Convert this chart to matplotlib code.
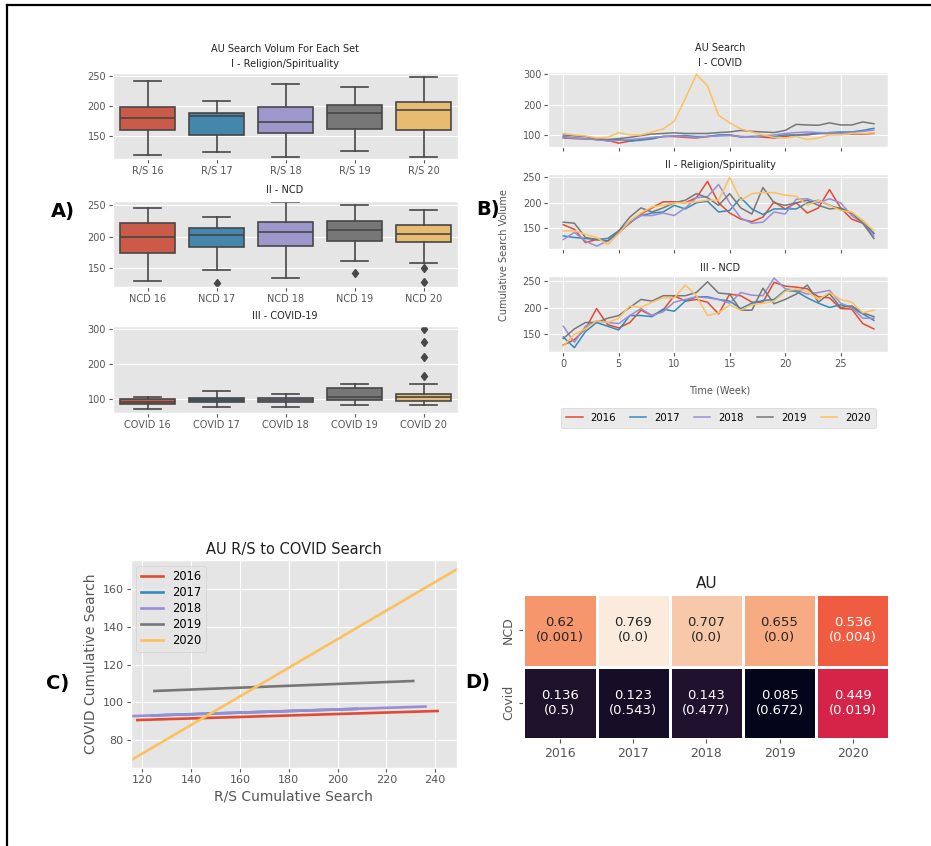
import matplotlib
matplotlib.use("Agg")
import matplotlib.pyplot as plt
from matplotlib.lines import Line2D
import numpy as np
import seaborn as sns

plt.style.use("ggplot")
plt.rcParams['font.family'] = ['DejaVu Sans']

W, H = 931, 846
fig = plt.figure(figsize=(W / 100, H / 100), dpi=100)


def fx(px):
    return px / W


def fy(py):
    return 1 - py / H


def rect(x0, y0, x1, y1):
    return [fx(x0), fy(y1), (x1 - x0) / W, (y1 - y0) / H]


# ---------------- data ----------------
years = ["2016", "2017", "2018", "2019", "2020"]
colors = ['#E24A33', '#348ABD', '#988ED5', '#777777', '#FBC15E']

# Panel A: box statistics
rs_labels = ["R/S 16", "R/S 17", "R/S 18", "R/S 19", "R/S 20"]
rs_whislo = [118, 124, 115, 125, 116]
rs_q1 = [160, 152, 156, 162, 160]
rs_med = [180, 183, 174, 189, 193]
rs_q3 = [199, 188, 199, 201, 206]
rs_whishi = [241, 208, 236, 231, 249]
rs_fliers = [[], [], [], [], []]

ncd_labels = ["NCD 16", "NCD 17", "NCD 18", "NCD 19", "NCD 20"]
ncd_whislo = [130, 148, 135, 161, 159]
ncd_q1 = [175, 183, 185, 194, 192]
ncd_med = [200, 202, 208, 210, 205]
ncd_q3 = [221, 214, 223, 225, 218]
ncd_whishi = [246, 232, 255, 250, 242]
ncd_fliers = [[], [127], [], [142], [150, 128]]

cov_labels = ["COVID 16", "COVID 17", "COVID 18", "COVID 19", "COVID 20"]
cov_whislo = [72, 79, 79, 83, 85]
cov_q1 = [88, 91, 91, 99, 95]
cov_med = [93, 98, 97, 106, 106]
cov_q3 = [102, 104, 104, 132, 116]
cov_whishi = [106, 125, 116, 143, 145]
cov_fliers = [[], [], [], [], [300, 264, 220, 166]]

# Panel B: weekly series (weeks 0..28)
weeks = list(range(29))
covid_2016 = [90, 88, 87, 85, 82, 73, 80, 85, 90, 95, 95, 92, 90, 95, 98, 100, 95, 95, 93, 90, 95, 100, 100, 105, 105, 106, 103, 103, 105]
covid_2017 = [95, 90, 88, 85, 82, 85, 80, 83, 87, 95, 97, 98, 95, 95, 100, 100, 93, 95, 97, 95, 100, 100, 103, 105, 108, 110, 110, 115, 122]
covid_2018 = [92, 90, 88, 85, 80, 82, 85, 88, 92, 95, 97, 95, 92, 95, 97, 98, 95, 93, 97, 100, 105, 108, 110, 108, 107, 105, 108, 112, 116]
covid_2019 = [100, 97, 95, 88, 85, 88, 92, 98, 103, 105, 107, 105, 105, 105, 108, 110, 115, 112, 110, 108, 115, 135, 133, 132, 140, 133, 133, 143, 137]
covid_2020 = [105, 100, 97, 90, 92, 108, 100, 100, 110, 120, 145, 220, 300, 262, 165, 140, 120, 110, 100, 92, 90, 95, 85, 90, 100, 100, 105, 105, 107]

rs_2016 = [157, 148, 122, 128, 125, 142, 160, 178, 190, 202, 202, 200, 210, 242, 200, 180, 168, 163, 172, 202, 188, 200, 180, 190, 226, 190, 168, 160, 140]
rs_2017 = [135, 132, 130, 128, 130, 145, 162, 175, 180, 182, 195, 188, 200, 203, 182, 185, 210, 188, 177, 188, 188, 188, 200, 205, 195, 188, 180, 165, 140]
rs_2018 = [128, 142, 125, 115, 125, 140, 162, 175, 175, 180, 175, 190, 210, 212, 236, 200, 170, 160, 162, 182, 178, 207, 208, 200, 208, 200, 175, 160, 135]
rs_2019 = [162, 160, 132, 128, 125, 145, 172, 190, 182, 190, 200, 205, 218, 210, 195, 218, 190, 178, 230, 200, 195, 200, 205, 195, 188, 190, 180, 160, 130]
rs_2020 = [145, 145, 138, 132, 118, 140, 165, 180, 192, 195, 200, 200, 202, 205, 205, 250, 205, 218, 220, 220, 215, 213, 195, 205, 195, 185, 182, 165, 145]

ncd_2016 = [130, 140, 160, 198, 168, 162, 172, 195, 185, 195, 222, 212, 215, 210, 188, 225, 222, 210, 210, 247, 240, 238, 235, 220, 218, 198, 197, 170, 160]
ncd_2017 = [145, 125, 155, 172, 165, 158, 185, 185, 183, 197, 193, 212, 220, 220, 215, 212, 198, 208, 213, 215, 232, 230, 218, 208, 200, 205, 200, 188, 176]
ncd_2018 = [165, 135, 165, 175, 172, 170, 185, 198, 185, 192, 210, 215, 220, 218, 215, 208, 228, 223, 222, 255, 235, 232, 225, 228, 232, 208, 200, 180, 180]
ncd_2019 = [142, 160, 172, 172, 180, 185, 200, 215, 212, 222, 222, 222, 228, 248, 227, 225, 195, 195, 236, 207, 215, 225, 242, 210, 226, 200, 203, 190, 183]
ncd_2020 = [128, 150, 160, 175, 172, 180, 203, 200, 210, 218, 218, 242, 222, 185, 190, 205, 195, 205, 208, 212, 230, 235, 230, 215, 228, 215, 210, 190, 195]

# Panel C: regression lines COVID ~ R/S
reg_slope = [0.039, 0.042, 0.0422, 0.0498, 0.759]
reg_intercept = [86.0, 87.8, 87.8, 99.8, -18.3]

# Panel D: correlation (p-value)
heat_rows = ["NCD", "Covid"]
ncd_r = [0.62, 0.769, 0.707, 0.655, 0.536]
ncd_p = ["0.001", "0.0", "0.0", "0.0", "0.004"]
covid_r = [0.136, 0.123, 0.143, 0.085, 0.449]
covid_p = ["0.5", "0.543", "0.477", "0.672", "0.019"]

# ---------------- figure border ----------------
fig.add_artist(Line2D([fx(7), fx(931)], [fy(5.5), fy(5.5)], color='black', lw=1.6))
fig.add_artist(Line2D([fx(7), fx(7)], [fy(5.5), fy(846)], color='black', lw=1.6))

# ---------------- Panel A ----------------
box_colors = [sns.desaturate(c, 0.75) for c in colors]
edge_gray = '#474747'


def draw_box(ax, labels, lo, q1, med, q3, hi, fliers, ylim, yticks):
    stats = []
    for i in range(len(labels)):
        stats.append(dict(whislo=lo[i], q1=q1[i], med=med[i], q3=q3[i],
                          whishi=hi[i], fliers=fliers[i], label=labels[i]))
    bp = ax.bxp(stats, positions=range(len(labels)), widths=0.8,
                patch_artist=True, showfliers=True, capwidths=0.4,
                boxprops=dict(edgecolor=edge_gray, linewidth=1.2),
                whiskerprops=dict(color=edge_gray, linewidth=1.2),
                capprops=dict(color=edge_gray, linewidth=1.2),
                medianprops=dict(color=edge_gray, linewidth=1.2),
                flierprops=dict(marker='d', markerfacecolor=edge_gray,
                                markeredgecolor=edge_gray, markersize=4.5))
    for patch, c in zip(bp['boxes'], box_colors):
        patch.set_facecolor(c)
    ax.set_xlim(-0.5, len(labels) - 0.5)
    ax.set_ylim(*ylim)
    ax.set_yticks(yticks)
    ax.xaxis.grid(False)
    ax.tick_params(labelsize=7, length=3, width=0.8, pad=2)


axA1 = fig.add_axes(rect(113, 73, 458, 159))
draw_box(axA1, rs_labels, rs_whislo, rs_q1, rs_med, rs_q3, rs_whishi, rs_fliers,
         (112, 255), [150, 200, 250])
axA2 = fig.add_axes(rect(113, 200.7, 458, 286.7))
draw_box(axA2, ncd_labels, ncd_whislo, ncd_q1, ncd_med, ncd_q3, ncd_whishi, ncd_fliers,
         (121, 257), [150, 200, 250])
axA3 = fig.add_axes(rect(113, 326, 458, 413.3))
draw_box(axA3, cov_labels, cov_whislo, cov_q1, cov_med, cov_q3, cov_whishi, cov_fliers,
         (60, 309.5), [100, 200, 300])

fig.text(fx(285), fy(49), "AU Search Volum For Each Set", ha='center', va='center', fontsize=7, color='#222222')
fig.text(fx(285), fy(64), "I - Religion/Spirituality", ha='center', va='center', fontsize=7, color='#222222')
fig.text(fx(285), fy(190), "II - NCD", ha='center', va='center', fontsize=7, color='#222222')
fig.text(fx(285), fy(316), "III - COVID-19", ha='center', va='center', fontsize=7, color='#222222')

# ---------------- Panel B ----------------
covid_series = [covid_2016, covid_2017, covid_2018, covid_2019, covid_2020]
rs_series = [rs_2016, rs_2017, rs_2018, rs_2019, rs_2020]
ncd_series = [ncd_2016, ncd_2017, ncd_2018, ncd_2019, ncd_2020]

axB1 = fig.add_axes(rect(548.3, 71.7, 888.3, 147.3))
axB2 = fig.add_axes(rect(548.3, 174, 888.3, 249.3))
axB3 = fig.add_axes(rect(548.3, 276, 888.3, 351.7))
b_specs = [(axB1, covid_series, (59.4, 308.6), [100, 200, 300]),
           (axB2, rs_series, (108.8, 256.5), [150, 200, 250]),
           (axB3, ncd_series, (117.5, 258.8), [150, 200, 250])]
for ax, series, ylim, yt in b_specs:
    for s, c, y in zip(series, colors, years):
        ax.plot(weeks, s, color=c, lw=1.1, label=y)
    ax.set_xlim(-1.35, 29.3)
    ax.set_ylim(*ylim)
    ax.set_yticks(yt)
    ax.set_xticks([0, 5, 10, 15, 20, 25])
    ax.tick_params(labelsize=7, length=3, width=0.8, pad=2)
axB1.set_xticklabels([])
axB2.set_xticklabels([])

fig.text(fx(720), fy(48), "AU Search", ha='center', va='center', fontsize=7, color='#222222')
fig.text(fx(720), fy(63), "I - COVID", ha='center', va='center', fontsize=7, color='#222222')
fig.text(fx(720), fy(165), "II - Religion/Spirituality", ha='center', va='center', fontsize=7, color='#222222')
fig.text(fx(720), fy(268), "III - NCD", ha='center', va='center', fontsize=7, color='#222222')
fig.text(fx(720), fy(390), "Time (Week)", ha='center', va='center', fontsize=7, color='#555555')
fig.text(fx(504), fy(255), "Cumulative Search Volume", ha='center', va='center', rotation=90,
         fontsize=7, color='#555555')

handles, labs = axB3.get_legend_handles_labels()
fig.legend(handles, labs, loc='center', bbox_to_anchor=(fx(718.5), fy(418)), ncol=5,
           fontsize=7.3, handlelength=1.6, columnspacing=1.35, handletextpad=0.8,
           frameon=True, borderpad=0.5)

# ---------------- Panel C ----------------
axC = fig.add_axes(rect(130.7, 560, 456.7, 768.3))
rs_min = rs_whislo
rs_max = rs_whishi
for i in range(5):
    xs = np.array([rs_min[i], rs_max[i]], dtype=float)
    ys = reg_intercept[i] + reg_slope[i] * xs
    axC.plot(xs, ys, color=colors[i], lw=1.9, label=years[i])
axC.set_xlim(115.3, 248.8)
axC.set_ylim(65, 175.5)
axC.set_xticks([120, 140, 160, 180, 200, 220, 240])
axC.set_yticks([80, 100, 120, 140, 160])
axC.tick_params(labelsize=8, length=3, width=0.8, pad=2)
axC.set_title("AU R/S to COVID Search", fontsize=10.5, pad=4, color='#222222')
axC.set_xlabel("R/S Cumulative Search", fontsize=10, labelpad=3)
axC.set_ylabel("COVID Cumulative Search", fontsize=10, labelpad=3)
axC.legend(loc='upper left', fontsize=8.3, handlelength=1.9, labelspacing=0.25,
           handletextpad=0.8, borderpad=0.4)

# ---------------- Panel D ----------------
axD = fig.add_axes(rect(523.3, 594, 889.3, 739))
heat_vals = np.array([ncd_r, covid_r])
annot = np.array([[f"{r}\n({p})" for r, p in zip(ncd_r, ncd_p)],
                  [f"{r}\n({p})" for r, p in zip(covid_r, covid_p)]])
sns.heatmap(heat_vals, ax=axD, cmap='rocket', annot=annot, fmt='', cbar=False,
            linewidths=2, linecolor='white', annot_kws={'fontsize': 9.5},
            xticklabels=years, yticklabels=heat_rows)
axD.set_title("AU", fontsize=11, pad=4, color='#222222')
axD.tick_params(labelsize=9, length=3, width=0.8, pad=3)
axD.set_yticklabels(heat_rows, rotation=90, va='center')

# ---------------- panel letters ----------------
for lab, x, y in [("A)", 63, 212), ("B)", 488, 210), ("C)", 58, 683), ("D)", 478, 682)]:
    fig.text(fx(x), fy(y), lab, ha='center', va='center', fontsize=14, fontweight='bold', color='black')

fig.savefig("out.png", dpi=100)
